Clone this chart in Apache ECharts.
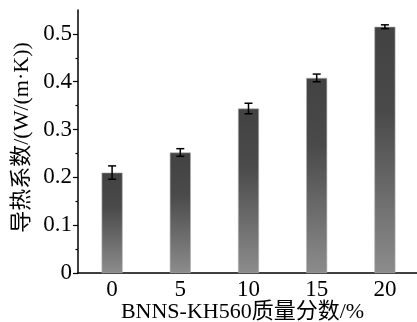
<!DOCTYPE html>
<html><head><meta charset="utf-8">
<script src="https://cdn.jsdelivr.net/npm/echarts@6/dist/echarts.min.js"></script>
<style>html,body{margin:0;padding:0;background:#fff}#c{width:417px;height:322px}</style>
</head><body><div id="c"></div>
<script>
const categories = ['0', '5', '10', '15', '20'];
const values = [0.210, 0.252, 0.344, 0.408, 0.515];
const errors = [0.014, 0.008, 0.011, 0.008, 0.004];
const yTicks = [0, 0.1, 0.2, 0.3, 0.4, 0.5];
const yMinorTicks = [0.05, 0.15, 0.25, 0.35, 0.45];
const xName = 'BNNS-KH560质量分数/%';
const yName = '导热系数/(W/(m·K))';

const FONT = '"Liberation Serif", "Times New Roman", "Noto Sans CJK SC", serif';
const chart = echarts.init(document.getElementById('c'));
const errData = values.map((v, i) => [i, v - errors[i], v + errors[i]]);
chart.setOption({
  animation: false,
  backgroundColor: '#fff',
  grid: { left: 78, right: -2, top: 10, bottom: 49, containLabel: false, outerBoundsMode: 'none' },
  xAxis: [{
    type: 'category', data: categories, boundaryGap: true,
    name: xName, nameLocation: 'middle', nameGap: 28, nameMoveOverlap: false,
    nameTextStyle: { fontFamily: FONT, fontSize: 22, color: '#000', padding: [0, 12, 0, 0] },
    axisLine: { lineStyle: { color: '#000', width: 1.5 } },
    axisTick: { alignWithLabel: true, length: 5, lineStyle: { color: '#000', width: 1.2 } },
    axisLabel: { fontFamily: FONT, fontSize: 23, color: '#000', margin: 5 },
    splitLine: { show: false }
  }, {
    type: 'category', data: categories, boundaryGap: true, position: 'bottom',
    axisLine: { show: false },
    axisTick: { alignWithLabel: false, length: 2.5, lineStyle: { color: '#000', width: 1.2 } },
    axisLabel: { show: false }, splitLine: { show: false }
  }],
  yAxis: [{
    type: 'value', min: 0, max: 0.55,
    name: yName, nameLocation: 'middle', nameGap: 45, nameMoveOverlap: false,
    nameTextStyle: { fontFamily: FONT, fontSize: 22, color: '#000', padding: [0, 0, 0, 8] },
    axisLine: { show: true, lineStyle: { color: '#000', width: 1.5 } },
    axisTick: { show: true, customValues: yTicks, length: 5, lineStyle: { color: '#000', width: 1.2 } },
    axisLabel: { customValues: yTicks, fontFamily: FONT, fontSize: 23, color: '#000', margin: 6,
      formatter: v => (v === 0 ? '0' : String(+v.toFixed(2))) },
    splitLine: { show: false }
  }, {
    type: 'value', min: 0, max: 0.55, position: 'left', offset: 0,
    axisLine: { show: false },
    axisTick: { show: true, customValues: yMinorTicks, length: 2.5, lineStyle: { color: '#000', width: 1.2 } },
    axisLabel: { show: false }, splitLine: { show: false }
  }],
  series: [{
    type: 'bar', data: values, barWidth: 21,
    itemStyle: {
      color: new echarts.graphic.LinearGradient(0, 0, 0, 1, [
        { offset: 0, color: '#424242' },
        { offset: 0.35, color: '#4a4a4a' },
        { offset: 1, color: '#8c8c8c' }
      ]),
      borderColor: '#b0b0b0', borderWidth: 0.6
    }
  }, {
    type: 'custom', data: errData, z: 10,
    renderItem: (params, api) => {
      const x = api.value(0), lo = api.value(1), hi = api.value(2);
      const pLo = api.coord([x, lo]), pHi = api.coord([x, hi]);
      const w = 4;
      const st = { stroke: '#000', lineWidth: 1.5 };
      return { type: 'group', children: [
        { type: 'line', shape: { x1: pLo[0], y1: pLo[1], x2: pHi[0], y2: pHi[1] }, style: st },
        { type: 'line', shape: { x1: pLo[0] - w, y1: pLo[1], x2: pLo[0] + w, y2: pLo[1] }, style: st },
        { type: 'line', shape: { x1: pHi[0] - w, y1: pHi[1], x2: pHi[0] + w, y2: pHi[1] }, style: st }
      ]};
    }
  }]
});
</script></body></html>
